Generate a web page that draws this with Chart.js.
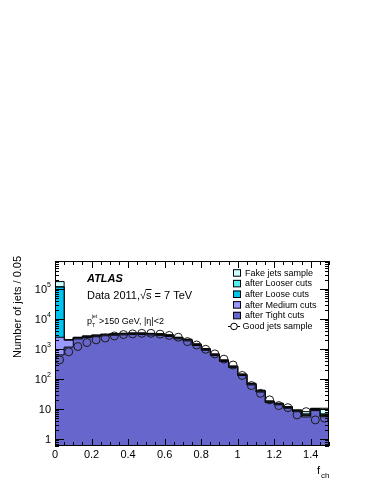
<!DOCTYPE html>
<html>
<head>
<meta charset="utf-8">
<script src="https://cdn.jsdelivr.net/npm/chart.js@4.4.1/dist/chart.umd.min.js"></script>
<style>
  html, body { margin: 0; padding: 0; background: #fff; }
</style>
</head>
<body>
<canvas id="myChart" width="374" height="484"></canvas>
<script>
const FONT = '"Liberation Sans", Arial, Helvetica, sans-serif';

// bin low edges of f_ch (bin width 0.05)
const binLow = [0, 0.05, 0.1, 0.15, 0.2, 0.25, 0.3, 0.35, 0.4, 0.45,
  0.5, 0.55, 0.6, 0.65, 0.7, 0.75, 0.8, 0.85, 0.9, 0.95,
  1.0, 1.05, 1.1, 1.15, 1.2, 1.25, 1.3, 1.35, 1.4, 1.45];
const binWidth = 0.05;
const xMax = 1.5;

const fakeJets = [175000, 2000, 2450, 2700, 2900, 3100, 3230, 3330, 3400, 3400,
  3300, 3200, 2950, 2450, 2100, 1470, 1020, 680, 430, 270,
  146, 72, 42, 18.5, 15.5, 12, 9.3, 8.1, 10.5, 10.5];
const afterLooser = [118000, 1990, 2400, 2650, 2850, 3050, 3170, 3270, 3340, 3340,
  3240, 3140, 2900, 2400, 2060, 1440, 1000, 665, 420, 263,
  142, 70, 41, 18, 15, 11.7, 9, 6.8, 10.2, 6.8];
const afterLoose = [115000, 1980, 2370, 2620, 2810, 3000, 3130, 3230, 3300, 3300,
  3200, 3100, 2860, 2370, 2030, 1420, 985, 655, 413, 259,
  140, 69, 40, 17.7, 14.8, 11.5, 8.8, 6.6, 10, 6.6];
const afterMedium = [2450, 1950, 2300, 2550, 2740, 2930, 3050, 3150, 3210, 3210,
  3120, 3020, 2790, 2310, 1980, 1390, 960, 640, 404, 253,
  137, 67, 39, 17.2, 14.5, 11.2, 8.6, 6.0, 9.5, 6.0];
const afterTight = [630, 1150, 2150, 2380, 2560, 2740, 2850, 2940, 3000, 3000,
  2910, 2820, 2600, 2160, 1850, 1300, 900, 600, 380, 238,
  129, 63, 36.5, 16.2, 13.6, 10.5, 8.1, 5.4, 8.8, 5.5];
const goodJets = [430, 800, 1200, 1630, 2000, 2300, 2700, 3000, 3160, 3300,
  3300, 3100, 2800, 2450, 1750, 1350, 970, 680, 455, 290,
  130, 60, 33, 20, 12.9, 11, 6.3, 8.1, 4.3, 4.9];

const xTickVals = [0, 0.2, 0.4, 0.6, 0.8, 1, 1.2, 1.4];
const xTickLabels = ["0", "0.2", "0.4", "0.6", "0.8", "1", "1.2", "1.4"];
const yTickVals = [1, 10, 100, 1000, 10000, 100000];
const yTickBase = ["1", "10", "10", "10", "10", "10"];
const yTickExp = ["", "", "2", "3", "4", "5"];

const legendNames = ["Fake jets sample", "after Looser cuts", "after Loose cuts",
  "after Medium cuts", "after Tight cuts", "Good jets sample"];
const legendColors = ["#ccffff", "#55f0f0", "#00c4f0", "#9999ff", "#6666cc"];

// step outline: value of bin i held from its low edge to the next edge
const steps = vals => [{ x: binLow[0], y: vals[0] }]
  .concat(binLow.map((x, i) => ({ x: i + 1 < binLow.length ? binLow[i + 1] : xMax, y: vals[i] })));

const histo = (vals, color, order) => ({
  data: steps(vals),
  stepped: "after",
  fill: "start",
  backgroundColor: color,
  borderColor: "#000",
  borderWidth: 1,
  pointRadius: 0,
  order: order,
});

const decor = {
  id: "decor",
  afterDraw(chart) {
    const { ctx, chartArea: a, scales: { x, y } } = chart;
    ctx.save();
    ctx.strokeStyle = "#000";
    ctx.lineWidth = 1;
    ctx.beginPath();
    // x ticks, top and bottom, inside the frame
    for (let i = 0; i <= 30; i++) {
      const px = Math.round(x.getPixelForValue(i * binWidth)) + 0.5;
      const len = i % 4 === 0 ? 7 : 4;
      ctx.moveTo(px, a.bottom); ctx.lineTo(px, a.bottom - len);
      ctx.moveTo(px, a.top); ctx.lineTo(px, a.top + len);
    }
    // y ticks, left and right
    for (let d = -1; d <= 5; d++) {
      for (let m = 1; m <= 9; m++) {
        const v = m * Math.pow(10, d);
        if (v < y.min || v > y.max) continue;
        const py = Math.round(y.getPixelForValue(v)) + 0.5;
        const len = m === 1 ? 9 : 4;
        ctx.moveTo(a.left, py); ctx.lineTo(a.left + len, py);
        ctx.moveTo(a.right, py); ctx.lineTo(a.right - len, py);
      }
    }
    ctx.stroke();
    ctx.strokeRect(a.left + 0.5, a.top + 0.5, a.right - a.left - 1, a.bottom - a.top - 1);

    // y tick labels with superscript exponents
    ctx.fillStyle = "#000";
    ctx.textBaseline = "middle";
    ctx.textAlign = "right";
    yTickVals.forEach((v, i) => {
      const py = y.getPixelForValue(v);
      let right = a.left - 4;
      if (yTickExp[i]) {
        ctx.font = "7px " + FONT;
        ctx.fillText(yTickExp[i], right, py - 4);
        right -= ctx.measureText(yTickExp[i]).width;
      }
      ctx.font = "11px " + FONT;
      ctx.fillText(yTickBase[i], right, py + 1);
    });

    // y axis title
    ctx.save();
    ctx.translate(18, 307);
    ctx.rotate(-Math.PI / 2);
    ctx.textAlign = "center";
    ctx.font = "11px " + FONT;
    ctx.fillText("Number of jets / 0.05", 0, 0);
    ctx.restore();

    // x axis title f_ch
    ctx.textAlign = "left";
    ctx.textBaseline = "alphabetic";
    ctx.font = "11px " + FONT;
    ctx.fillText("f", 317, 474);
    ctx.font = "8px " + FONT;
    ctx.fillText("ch", 321, 478);

    // ATLAS labels
    const tx = a.left + 32;
    ctx.font = "italic bold 11px " + FONT;
    ctx.fillText("ATLAS", tx, a.top + 21);
    ctx.font = "11px " + FONT;
    const s1 = "Data 2011,";
    ctx.fillText(s1, tx, a.top + 38);
    let cx = tx + ctx.measureText(s1).width;
    ctx.fillText("\u221A", cx, a.top + 38);
    cx += ctx.measureText("\u221A").width;
    const sW = ctx.measureText("s").width;
    ctx.fillText("s", cx, a.top + 38);
    ctx.beginPath();
    ctx.moveTo(cx - 0.5, a.top + 28.5); ctx.lineTo(cx + sW, a.top + 28.5);
    ctx.stroke();
    ctx.fillText(" = 7 TeV", cx + sW, a.top + 38);

    ctx.font = "9px " + FONT;
    ctx.fillText("p", tx, a.top + 63);
    const pW = ctx.measureText("p").width;
    ctx.font = "5px " + FONT;
    ctx.fillText("T", tx + pW, a.top + 66);
    ctx.fillText("jet", tx + pW, a.top + 57);
    ctx.font = "9px " + FONT;
    ctx.fillText(">150 GeV, |\u03B7|<2", tx + pW + 7, a.top + 63);

    // legend
    const lx = a.left + 178;
    const ly = a.top + 11.7;
    const dy = 10.65;
    ctx.font = "9px " + FONT;
    ctx.textBaseline = "middle";
    legendNames.forEach((name, i) => {
      const yc = ly + i * dy;
      if (i < legendColors.length) {
        ctx.fillStyle = legendColors[i];
        ctx.fillRect(lx, yc - 3.5, 8, 7);
        ctx.strokeStyle = "#000";
        ctx.strokeRect(lx + 0.5, yc - 3, 7, 6.5);
        ctx.fillStyle = "#000";
        ctx.fillText(name, lx + 12, yc + 0.5);
      } else {
        ctx.strokeStyle = "#000";
        ctx.beginPath();
        ctx.moveTo(lx - 5, Math.round(yc) + 0.5); ctx.lineTo(lx + 7, Math.round(yc) + 0.5);
        ctx.stroke();
        ctx.beginPath();
        ctx.arc(lx + 1, yc + 0.5, 3.3, 0, Math.PI * 2);
        ctx.fillStyle = "#fff";
        ctx.fill();
        ctx.stroke();
        ctx.fillStyle = "#000";
        ctx.fillText(name, lx + 9.5, yc + 0.5);
      }
    });
    ctx.restore();
  },
};

const ctx = document.getElementById("myChart").getContext("2d");
// eslint-disable-next-line no-undef
const myChart = new Chart(ctx, {
  type: "line",
  data: {
    datasets: [
      histo(fakeJets, legendColors[0], 6),
      histo(afterLooser, legendColors[1], 5),
      histo(afterLoose, legendColors[2], 4),
      histo(afterMedium, legendColors[3], 3),
      histo(afterTight, legendColors[4], 2),
      {
        data: binLow.map((x, i) => ({ x: x + binWidth / 2, y: goodJets[i] })),
        showLine: false,
        pointRadius: 4,
        pointBorderWidth: 1,
        pointBorderColor: "#1a1a1a",
        pointBackgroundColor: "rgba(255,255,255,0)",
        order: 1,
      },
    ],
  },
  options: {
    responsive: false,
    animation: false,
    devicePixelRatio: 1,
    layout: { padding: { top: 261, right: 45, left: 0, bottom: 0 } },
    plugins: { legend: { display: false }, tooltip: { enabled: false } },
    scales: {
      x: {
        type: "linear",
        min: 0,
        max: xMax,
        grid: { display: false, drawTicks: false },
        border: { display: false },
        afterBuildTicks: s => { s.ticks = xTickVals.map(v => ({ value: v })); },
        afterFit: s => { s.height = 38; },
        ticks: {
          padding: 2,
          maxRotation: 0,
          color: "#000",
          font: { family: FONT, size: 11 },
          callback: (v, i) => xTickLabels[i],
        },
      },
      y: {
        type: "logarithmic",
        min: 0.58,
        max: 850000,
        grid: { display: false, drawTicks: false },
        border: { display: false },
        afterBuildTicks: s => { s.ticks = yTickVals.map(v => ({ value: v })); },
        afterFit: s => { s.width = 55; },
        ticks: { display: false },
      },
    },
  },
  plugins: [decor],
});
</script>
</body>
</html>
